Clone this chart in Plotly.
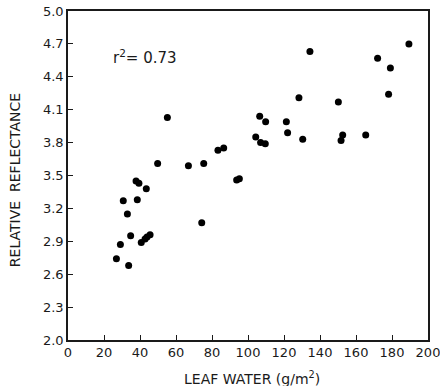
import plotly.graph_objects as go

leaf_water = [26.9, 29.1, 30.7, 33.0, 33.7, 34.8, 37.8, 39.4, 38.5, 43.5, 40.7, 42.8, 43.9, 45.6,
              49.8, 55.2, 66.9, 74.3, 75.4, 83.3, 86.5, 93.7, 95.2, 104.3, 106.5, 107.0, 109.6,
              109.8, 121.3, 122.0, 128.3, 130.4, 134.4, 150.2, 151.7, 152.6, 165.4, 172.0,
              179.1, 178.1, 189.4]
reflectance = [2.74, 2.87, 3.27, 3.15, 2.68, 2.95, 3.45, 3.43, 3.28, 3.38, 2.89, 2.92, 2.94, 2.96,
               3.61, 4.03, 3.59, 3.07, 3.61, 3.73, 3.75, 3.46, 3.47, 3.85, 4.04, 3.80, 3.79,
               3.99, 3.99, 3.89, 4.21, 3.83, 4.63, 4.17, 3.82, 3.87, 3.87, 4.57,
               4.48, 4.24, 4.70]

x_ticks = [0, 20, 40, 60, 80, 100, 120, 140, 160, 180, 200]
y_ticks = [2.0, 2.3, 2.6, 2.9, 3.2, 3.5, 3.8, 4.1, 4.4, 4.7, 5.0]
r2_label = "r<sup>2</sup>= 0.73"

FONT = "DejaVu Sans"
INK = "#1a1a1a"

fig = go.Figure(go.Scatter(
    x=leaf_water, y=reflectance, mode="markers",
    marker=dict(color="#000000", size=7),
    hoverinfo="skip", showlegend=False,
))

axis_common = dict(
    showline=True, linecolor=INK, linewidth=1.5, mirror=True,
    ticks="inside", ticklen=5, tickwidth=1.2, tickcolor=INK,
    showgrid=False, zeroline=False, automargin=False,
    ticklabeloverflow="allow",
    tickfont=dict(family=FONT, size=13, color=INK),
)

fig.update_xaxes(range=[0, 200], tickvals=x_ticks, ticktext=[str(v) for v in x_ticks], **axis_common)
fig.update_yaxes(range=[2.0, 5.0], tickvals=y_ticks, ticktext=[f"{v:.1f}" for v in y_ticks], **axis_common)

fig.update_layout(
    width=440, height=386,
    margin=dict(l=68, r=12, t=11, b=46),
    paper_bgcolor="white", plot_bgcolor="white",
    hovermode=False,
    annotations=[
        dict(text=r2_label, x=24, y=4.58, xref="x", yref="y", xanchor="left", yanchor="middle",
             showarrow=False, font=dict(family=FONT, size=15, color=INK)),
        dict(text="RELATIVE  REFLECTANCE", x=-0.147, y=0.486, xref="paper", yref="paper",
             textangle=-90, showarrow=False, xanchor="center", yanchor="middle",
             font=dict(family=FONT, size=14, color=INK)),
        dict(text="LEAF WATER (g/m<sup>2</sup>)", x=0.511, y=-0.115, xref="paper", yref="paper",
             showarrow=False, xanchor="center", yanchor="middle",
             font=dict(family=FONT, size=14, color=INK)),
    ],
)

fig.write_html("out.html", config={"displayModeBar": False},
               post_script="document.body.style.margin='0';document.body.style.overflow='hidden';")
